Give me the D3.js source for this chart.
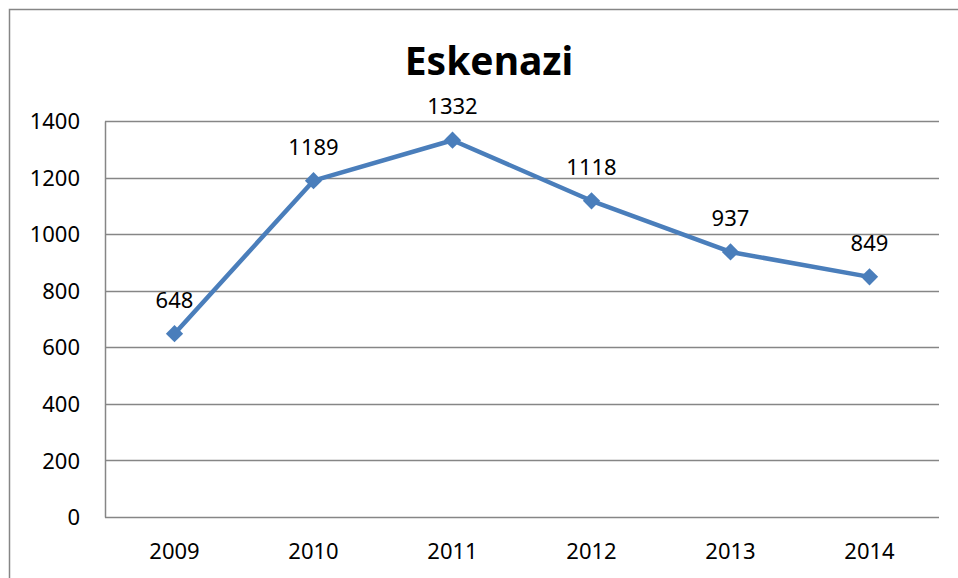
<!DOCTYPE html>
<meta charset="utf-8">
<style>
    html, body {
        margin: 0;
        padding: 0;
        background: #fff;
    }
    svg text {
        font-family: "Noto Sans", sans-serif;
        fill: #000;
    }
</style>
<body>
<div id="chart"></div>
<script src="https://cdn.jsdelivr.net/npm/d3@7"></script>
<script>
    // data
    var years = ["2009", "2010", "2011", "2012", "2013", "2014"];
    var counts = [648, 1189, 1332, 1118, 937, 849];
    var yTicks = [0, 200, 400, 600, 800, 1000, 1200, 1400];
    var title = "Eskenazi";

    var W = 958, H = 578;
    var margin = {top: 121, right: 19, bottom: 61, left: 105},
        width = W - margin.left - margin.right,
        height = H - margin.top - margin.bottom;

    var svg = d3.select("#chart").append("svg")
        .attr("width", W)
        .attr("height", H);

    // outer chart frame
    svg.append("rect")
        .attr("x", 9.5).attr("y", 9.5)
        .attr("width", W).attr("height", H)
        .attr("fill", "none")
        .attr("stroke", "#868686")
        .attr("stroke-width", 1.5);

    svg.append("text")
        .attr("x", 489)
        .attr("y", 75)
        .attr("text-anchor", "middle")
        .style("font-size", "39px")
        .style("font-weight", "bold")
        .text(title);

    var x = d3.scaleBand().domain(years).range([0, width]);
    var y = d3.scaleLinear().domain([0, 1400]).range([height, 0]);

    var g = svg.append("g")
        .attr("transform", "translate(" + margin.left + "," + margin.top + ")");

    // gridlines
    g.append("g")
        .selectAll("line")
        .data(yTicks)
        .enter().append("line")
        .attr("x1", 0).attr("x2", width)
        .attr("y1", function(d) { return Math.round(y(d)) + 0.5; })
        .attr("y2", function(d) { return Math.round(y(d)) + 0.5; })
        .attr("stroke", "#868686")
        .attr("stroke-width", 1.5);

    // y axis
    var yAxis = g.append("g")
        .call(d3.axisLeft(y).tickValues(yTicks).tickFormat(d3.format("d")).tickSize(0).tickPadding(25));
    yAxis.select(".domain").attr("stroke", "#868686").attr("stroke-width", 1.5);
    yAxis.selectAll("text").style("font-size", "22px").attr("dy", "0.35em");

    // x axis
    var xAxis = g.append("g")
        .attr("transform", "translate(0," + height + ")")
        .call(d3.axisBottom(x).tickSize(0).tickPadding(26));
    xAxis.select(".domain").remove();
    xAxis.selectAll("text").style("font-size", "22px");

    var pts = years.map(function(yr, i) { return {year: yr, v: counts[i]}; });
    var cx = function(d) { return x(d.year) + x.bandwidth() / 2; };

    var line = d3.line()
        .x(cx)
        .y(function(d) { return y(d.v); });

    g.append("path")
        .datum(pts)
        .attr("d", line)
        .attr("fill", "none")
        .attr("stroke", "#4A7EBB")
        .attr("stroke-width", 4.5)
        .attr("stroke-linejoin", "round");

    g.selectAll(".marker")
        .data(pts)
        .enter().append("path")
        .attr("class", "marker")
        .attr("d", d3.symbol().type(d3.symbolDiamond2).size(190))
        .attr("transform", function(d) { return "translate(" + cx(d) + "," + y(d.v) + ")"; })
        .attr("fill", "#4A7EBB");

    g.selectAll(".lbl")
        .data(pts)
        .enter().append("text")
        .attr("class", "lbl")
        .attr("x", cx)
        .attr("y", function(d) { return y(d.v) - 26; })
        .attr("text-anchor", "middle")
        .style("font-size", "22px")
        .text(function(d) { return d.v; });
</script>
</body>
